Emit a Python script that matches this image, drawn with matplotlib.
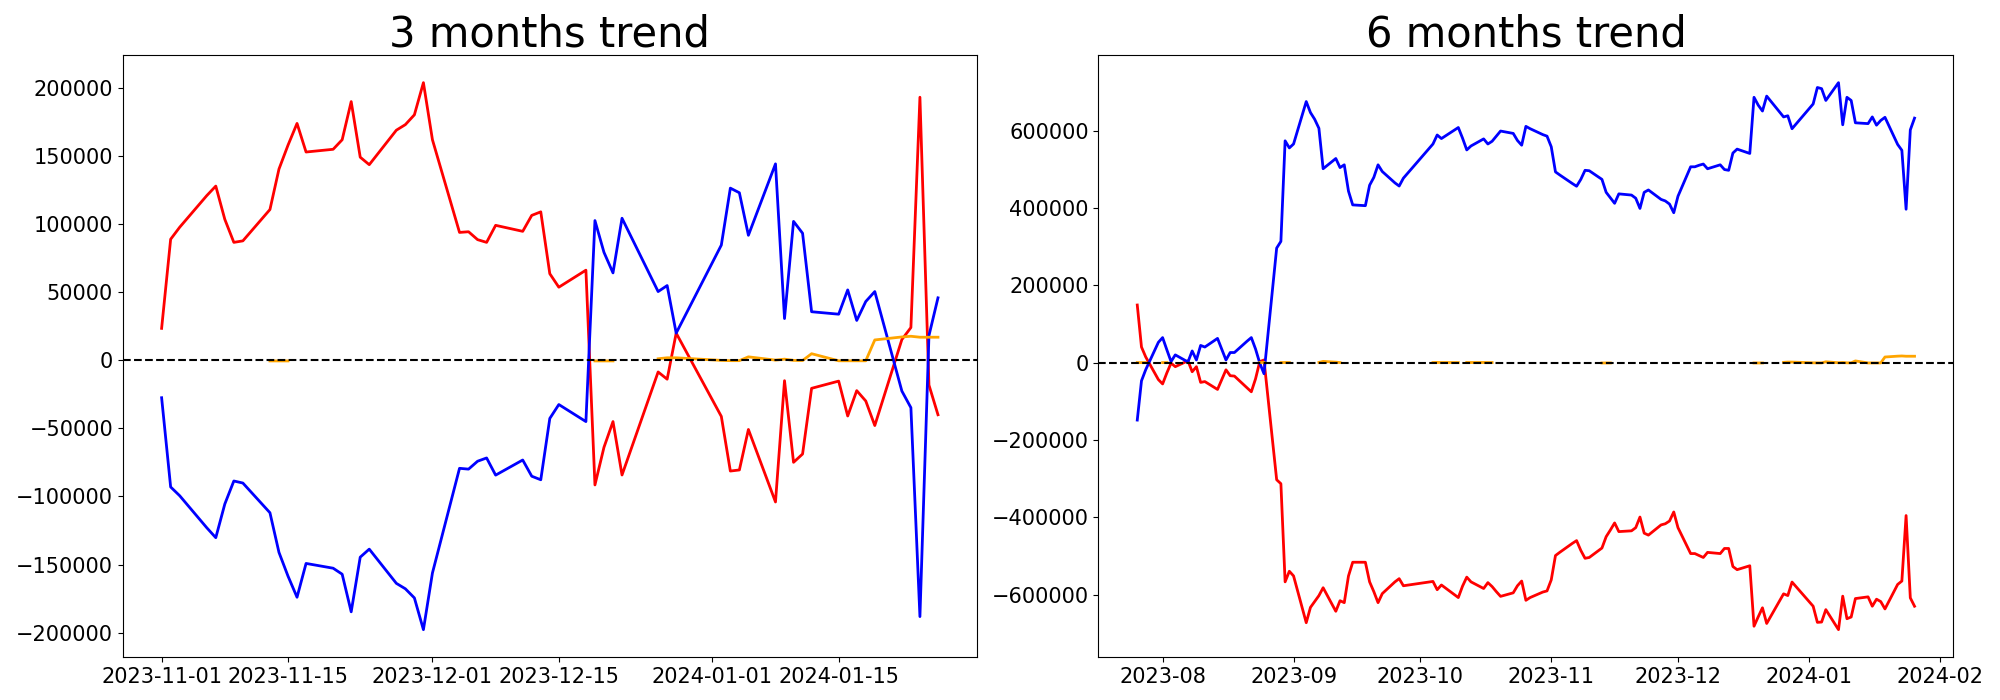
import matplotlib
matplotlib.use("Agg")
import matplotlib.pyplot as plt
import pandas as pd

# ---------------- trading days (Jul 26 2023 - Jan 26 2024) ----------------
def days(ym, dd):
    return [f"{ym}-{d:02d}" for d in dd]

trading_days = (
    days("2023-07", [26, 27, 28, 31])
    + days("2023-08", [1, 2, 3, 4, 7, 8, 9, 10, 11, 14, 16, 17, 18, 21, 22, 23, 24, 25, 28, 29, 30, 31])
    + days("2023-09", [1, 4, 5, 6, 7, 8, 11, 12, 13, 14, 15, 18, 19, 20, 21, 22, 25, 26, 27])
    + days("2023-10", [4, 5, 6, 10, 11, 12, 13, 16, 17, 18, 19, 20, 23, 24, 25, 26, 27, 30, 31])
    + days("2023-11", [1, 2, 3, 6, 7, 8, 9, 10, 13, 14, 15, 16, 17, 20, 21, 22, 23, 24, 27, 28, 29, 30])
    + days("2023-12", [1, 4, 5, 6, 7, 8, 11, 12, 13, 14, 15, 18, 19, 20, 21, 22, 26, 27, 28])
    + days("2024-01", [2, 3, 4, 5, 8, 9, 10, 11, 12, 15, 16, 17, 18, 19, 22, 23, 24, 25, 26])
)
dates_6m = trading_days
dates_3m = [d for d in trading_days if d >= "2023-11-01"]

# ---------------- 3 months trend ----------------
red_3m = [
    23300, 88700, 97500, 120700, 127700, 103300, 86400, 87500, 110500, 140200, 157700,
    173700, 152700, 154700, 161700, 189700, 148900, 143400, 168700, 172800, 180000, 203600,
    161700, 93700, 94200, 88400, 86400, 98900, 94500, 106200, 108800, 63400, 53500,
    66000, -91600, -64000, -45100, -84300, -8700, -14000, 19800,
    -41300, -81400, -80600, -50900, -104100, -15100, -75000, -68900, -20700, -15400,
    -41000, -22400, -30000, -48000, 15100, 23900, 192900, -18300, -40100,
]
blue_3m = [
    -27600, -93100, -99500, -123000, -130300, -105600, -88700, -90200, -112000, -141100, -158500,
    -174000, -149200, -152700, -157100, -184700, -144600, -138700, -163800, -167800, -174500, -197800,
    -156200, -79400, -80000, -74200, -71800, -84400, -73300, -85200, -87800, -42800, -32600,
    -45100, 102400, 79100, 64000, 104100, 50300, 54700, 19800,
    84400, 126200, 122800, 91600, 144000, 30500, 101800, 93100, 35500, 33700,
    51500, 29100, 43000, 50300, -22700, -34900, -188200, 18000, 45700,
]

# ---------------- 6 months trend ----------------
red_6m = [
    149200, 40600, 15000, -43600,
    -54800, -26400, -1000, -10200, 5100, -23300, -10200, -50800, -48700, -69000, -18300,
    -33500, -34500, -65000, -75100, -41600, 3000, 7100, -302500, -312700, -566400, -539000,
    -551100, -672000, -632400, -617200, -602000, -581600, -642500, -615100, -620200, -551200,
    -515700, -515700, -566400, -591700, -620200, -596800, -566400, -558200, -576500,
    -565300, -586700, -574500, -607000, -577500, -554200, -566400, -583600, -568400, -578600,
    -591700, -603900, -594800, -576500, -564300, -614100, -607000, -592800, -589800,
    -561300, -498400, -490200, -466900, -459800, -485200, -505500, -503400, -479000, -449600,
    -432400, -414100, -436500, -434500, -426300, -398900, -440500, -445600, -419200, -416200,
    -409100, -385700,
    -426300, -493300, -493300, -498400, -503400, -490200, -493300, -480100, -480100, -526800,
    -534900, -524800, -681100, -656700, -633400, -674000, -597400, -601800, -566900,
    -629400, -671100, -670300, -638200, -690000, -603400, -661700, -657300, -609600, -605200,
    -629400, -611200, -617400, -636400, -573100, -564300, -395000, -607800, -629400,
]
blue_6m = [
    -148200, -46700, -18000, 52800,
    65000, 33500, 3000, 20300, 2000, 30500, 7100, 44700, 40600, 62900, 7100,
    26400, 26400, 55800, 65000, 35500, -1000, -28400, 296400, 313700, 573600, 555300,
    565500, 675100, 646700, 629300, 606000, 501500, 527900, 504500, 511600, 443600,
    408000, 406000, 458800, 479100, 511600, 494300, 464900, 456800, 477100,
    565400, 588700, 579500, 608000, 580600, 550100, 560300, 578600, 565400, 572500,
    585700, 598900, 592800, 574500, 562300, 611000, 605000, 589700, 585700,
    558300, 493300, 485500, 463200, 456200, 474000, 497400, 496300, 474000, 440500,
    426300, 412100, 436500, 433400, 425300, 398900, 440500, 446600, 422200, 418200,
    410100, 387700,
    430400, 506500, 506500, 510500, 513600, 501400, 511600, 499400, 497400, 542000,
    552200, 541000, 686100, 665800, 650600, 689200, 635400, 638400, 604900,
    668900, 711500, 708500, 678000, 724000, 615100, 686100, 678000, 620200, 618100,
    635400, 614100, 626300, 634400, 564300, 549100, 396800, 601900, 632300,
]

# ---------------- orange series (only on some days) ----------------
orange_dates = (
    days("2023-07", [26, 27, 28]) + days("2023-08", [1, 2, 24, 25, 29, 30, 31])
    + days("2023-09", [7, 8, 11, 12]) + days("2023-10", [4, 5, 6, 10, 12, 13, 16, 17, 18])
    + days("2023-11", [13, 14, 15]) + days("2023-12", [19, 20, 21, 26, 27, 28])
    + days("2024-01", [2, 3, 4, 5, 8, 9, 10, 11, 12, 15, 16, 17, 18, 19, 22, 23, 24, 25, 26])
)
orange_vals = (
    [400, 300, 400] + [300, 300, 500, 700, 500, 600, 500]
    + [800, 3500, 1500, 500] + [500, 800, 600, 500, 800, 600, 700, 500, 600]
    + [-600, -600, -600] + [-600, -600, -600, 1000, 1700, 1700]
    + [-200, -400, -400, 2400, 0, 700, -200, -300, 4700, -500, -500, -500, -500,
       14800, 17000, 17500, 16800, 16800, 16800]
)

orange = pd.Series(orange_vals, index=pd.to_datetime(orange_dates), dtype=float)

fig = plt.figure(figsize=(20, 7), dpi=100)
ax1 = fig.add_axes([0.0614, 0.0614, 0.427, 0.8596])
ax2 = fig.add_axes([0.5492, 0.0614, 0.4275, 0.8596])

for ax, dts, red, blue, title in [
    (ax1, dates_3m, red_3m, blue_3m, "3 months trend"),
    (ax2, dates_6m, red_6m, blue_6m, "6 months trend"),
]:
    x = pd.to_datetime(dts)
    org = orange.reindex(x)
    ax.plot(x, red, color="red", lw=2)
    ax.plot(x, blue, color="blue", lw=2)
    ax.plot(x, org.values, color="orange", lw=2)
    ax.axhline(0, color="black", linestyle="--", lw=1.5)
    ax.set_title(title, fontsize=30)
    ax.tick_params(labelsize=15)

fig.savefig("out.png", dpi=100)
